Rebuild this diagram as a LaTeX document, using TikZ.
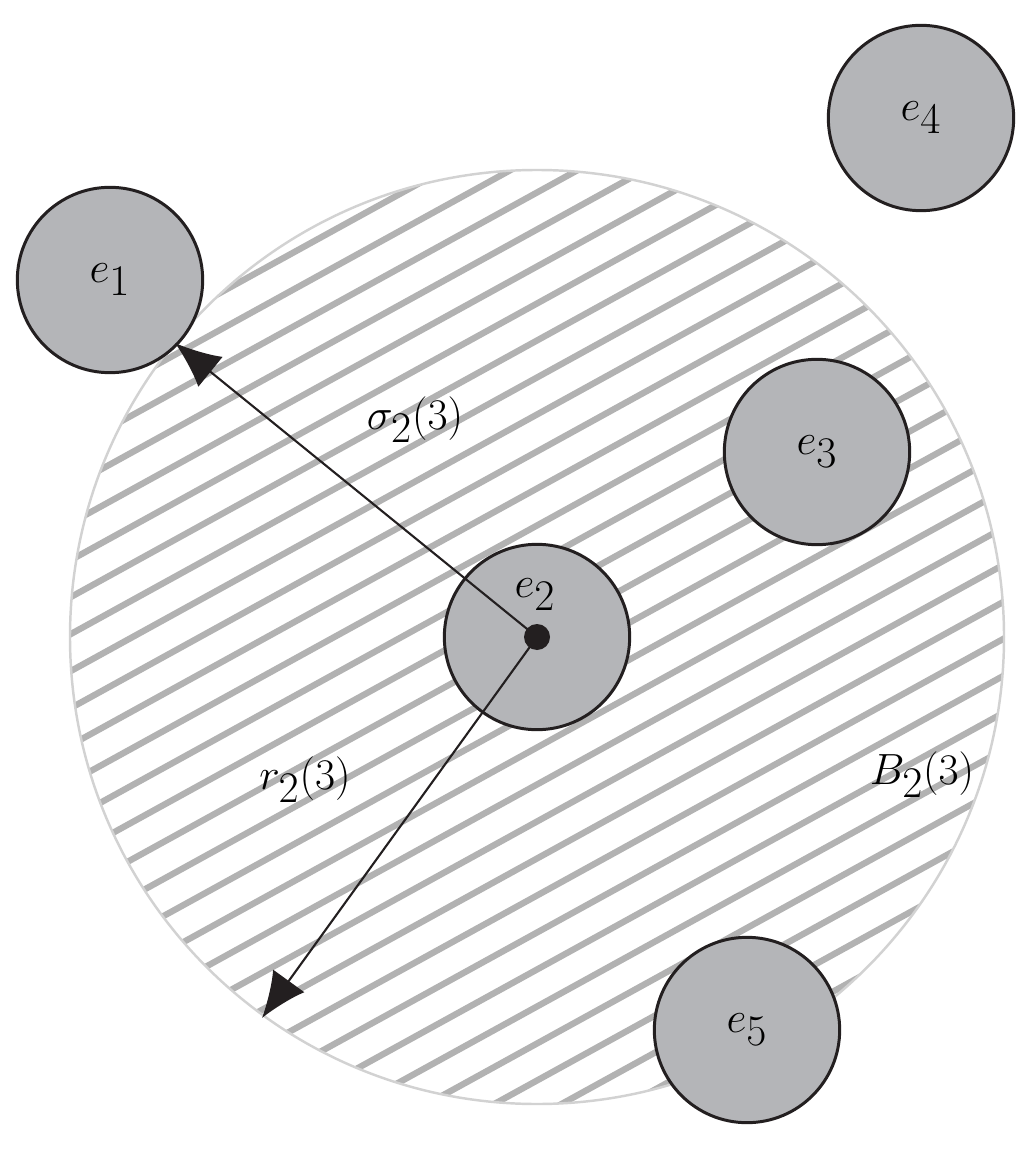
\documentclass[tikz,border=0pt]{standalone}
\usetikzlibrary{arrows.meta}
\definecolor{fillg}{RGB}{180,181,184}
\definecolor{hatchg}{RGB}{178,178,178}
\definecolor{edge}{RGB}{35,31,32}
\tikzset{
 ent/.style={circle,draw=edge,fill=fillg,line width=1.7pt,minimum size=105.5pt,inner sep=0pt},
 lab/.style={font=\fontsize{44}{50}\selectfont},
 arr/.style={draw=edge,line width=1.2pt,-{Latex[length=26pt,width=22pt]}}
}
\begin{document}
\begin{tikzpicture}[x=0.02cm,y=-0.02cm]
\useasboundingbox (0,0) rectangle (1034,1151);
\coordinate (c) at (537,637);
\begin{scope}
\clip (c) circle (467);
\foreach \k in {-400,-363,...,1800} {
  \draw[hatchg,line width=3.6pt] (0,\k) -- (1034,\k-569);
}
\end{scope}
\draw[gray!35,line width=1.4pt] (c) circle (467);
\node[ent] (e1) at (110,280) {};
\node[ent] (e2) at (537,637) {};
\node[ent] (e3) at (817,452) {};
\node[ent] (e4) at (921,118) {};
\node[ent] (e5) at (747,1030) {};
\node[lab] at (110,280) {$e_1$};
\node[lab] at (535,595) {$e_2$};
\node[lab] at (817,452) {$e_3$};
\node[lab] at (921,118) {$e_4$};
\node[lab] at (747,1030) {$e_5$};
\fill[edge] (e2.center) circle (13);
\coordinate (a1) at (175,343);
\coordinate (a2) at (262,1018);
\draw[arr] (e2.center) -- (a1);
\draw[arr] (e2.center) -- (a2);
\node[lab] (s) at (415,420) {$\sigma_2(3)$};
\node[lab] (r) at (305,780) {$r_2(3)$};
\node[lab] (b) at (922,775) {$B_2(3)$};
\end{tikzpicture}
\end{document}
